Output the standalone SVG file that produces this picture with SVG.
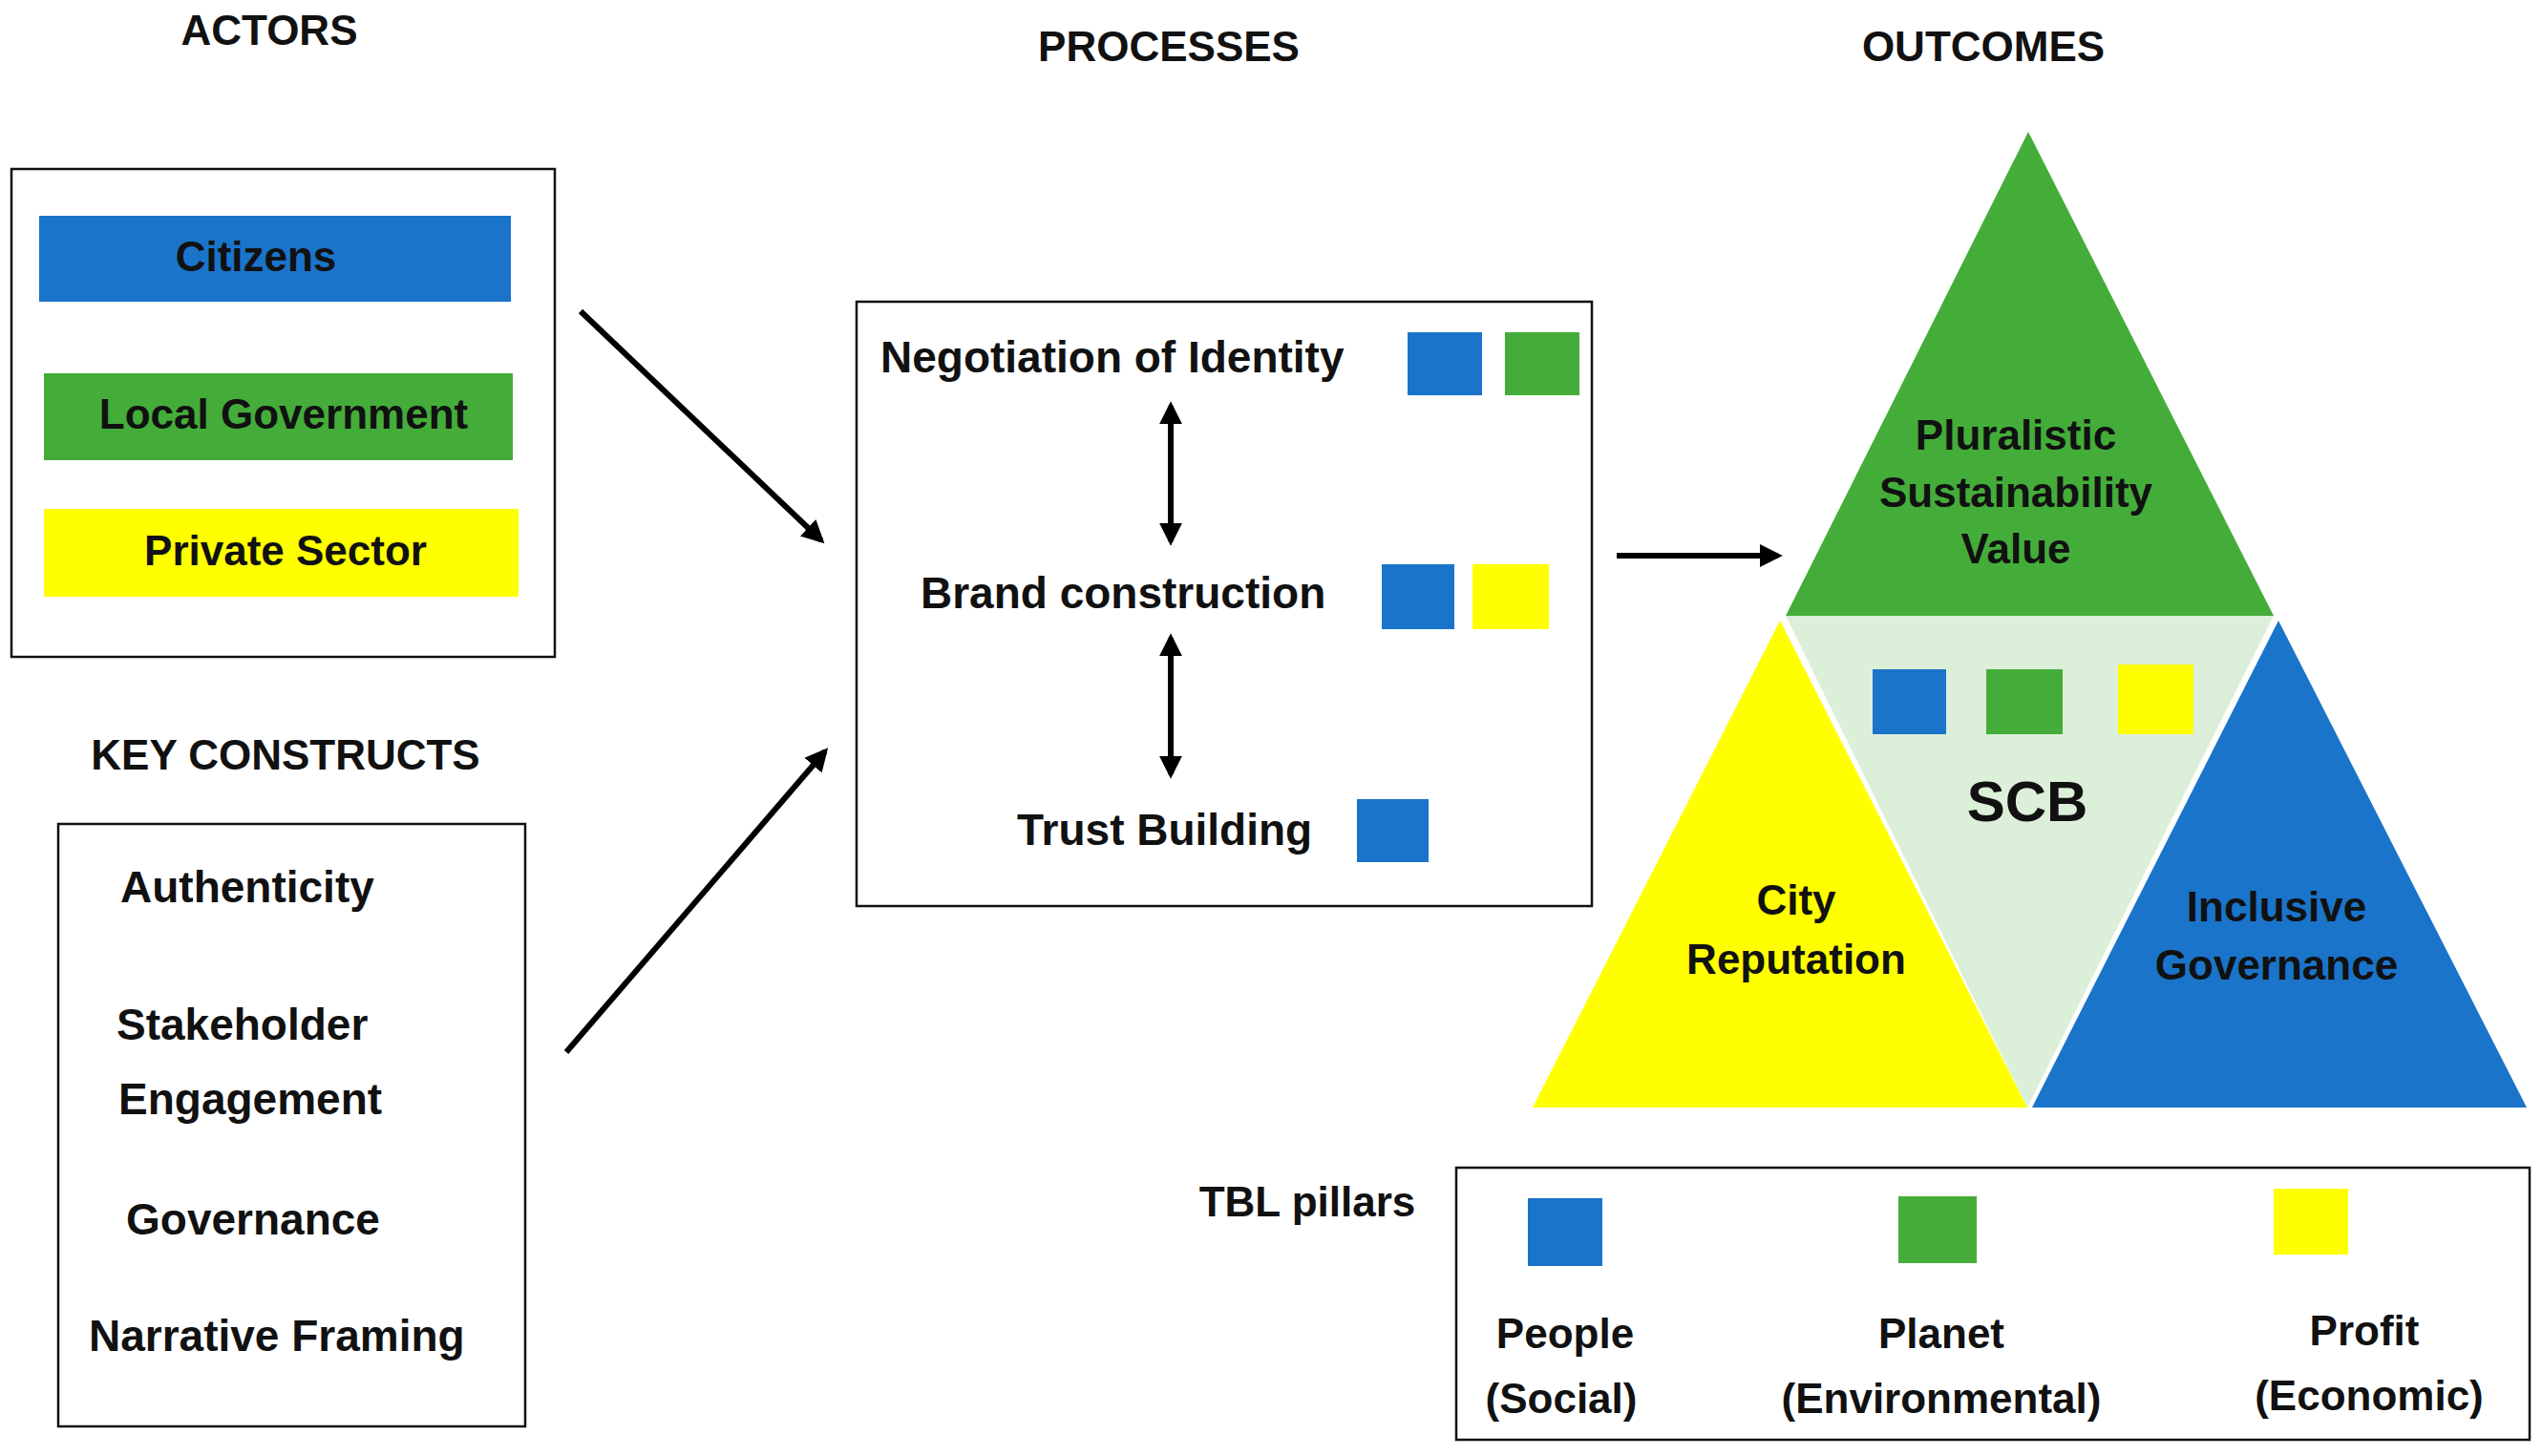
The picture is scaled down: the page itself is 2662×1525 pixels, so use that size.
<svg xmlns="http://www.w3.org/2000/svg" width="2662" height="1525" viewBox="0 0 2662 1525">
<style>
text{font-family:"Liberation Sans",Arial,sans-serif;font-weight:bold;font-size:44px;fill:#111;text-anchor:middle;dominant-baseline:central}
.l{text-anchor:start;font-size:46px}
.big{font-size:60px}
.box{fill:#fff;stroke:#111;stroke-width:2.5}
.b{fill:#1a74c9}.g{fill:#44ad3a}.y{fill:#ffff00}
.c{stroke:#000;stroke-width:6;fill:none}
</style>
<defs>
<marker id="ah" viewBox="0 0 10 10" refX="8" refY="5" markerWidth="4" markerHeight="4" orient="auto-start-reverse"><path d="M0,0L10,5L0,10z" fill="#000"/></marker>
</defs>
<rect width="2662" height="1525" fill="#fff"/>
<text x="282" y="31">ACTORS</text>
<text x="1224" y="48">PROCESSES</text>
<text x="2077" y="48">OUTCOMES</text>
<text x="299" y="790">KEY CONSTRUCTS</text>
<g id="actors">
<rect class="box" x="12" y="177" width="569" height="511"/>
<rect class="b" x="41" y="226" width="494" height="90"/><text x="268" y="268">Citizens</text>
<rect class="g" x="46" y="391" width="491" height="91"/><text x="297" y="433">Local Government</text>
<rect class="y" x="46" y="533" width="497" height="92"/><text x="299" y="576">Private Sector</text>
</g>
<g id="constructs">
<rect class="box" x="61" y="863" width="489" height="631"/>
<text class="l" x="126" y="929">Authenticity</text>
<text class="l" x="122" y="1073">Stakeholder</text>
<text class="l" x="124" y="1151">Engagement</text>
<text class="l" x="132" y="1277">Governance</text>
<text class="l" x="93" y="1399">Narrative Framing</text>
</g>
<g id="processes">
<rect class="box" x="897" y="316" width="770" height="633"/>
<text class="l" x="922" y="374">Negotiation of Identity</text>
<rect class="b" x="1474" y="348" width="78" height="66"/><rect class="g" x="1576" y="348" width="78" height="66"/>
<text class="l" x="964" y="621">Brand construction</text>
<rect class="b" x="1447" y="591" width="76" height="68"/><rect class="y" x="1542" y="591" width="80" height="68"/>
<text class="l" x="1065" y="869">Trust Building</text>
<rect class="b" x="1421" y="837" width="75" height="66"/>
</g>
<g id="connectors">
<line class="c" x1="608" y1="326" x2="860" y2="566" marker-end="url(#ah)"/>
<line class="c" x1="593" y1="1102" x2="864" y2="787" marker-end="url(#ah)"/>
<line class="c" x1="1226" y1="425" x2="1226" y2="567" stroke-width="4" marker-start="url(#ah)" marker-end="url(#ah)"/>
<line class="c" x1="1226" y1="668" x2="1226" y2="811" stroke-width="4" marker-start="url(#ah)" marker-end="url(#ah)"/>
<line class="c" x1="1693" y1="582" x2="1862" y2="582" marker-end="url(#ah)"/>
</g>
<g id="outcomes">
<polygon points="1870,645 2381,645 2123,1160" fill="#dcefd8"/>
<polygon class="g" points="2124,138 1870,645 2381,645"/>
<polygon class="y" points="1864,650 1605,1160 2123,1160"/>
<polygon class="b" points="2386,650 2128,1160 2646,1160"/>
<text x="2111" y="455">Pluralistic</text>
<text x="2111" y="515">Sustainability</text>
<text x="2111" y="574">Value</text>
<rect class="b" x="1961" y="701" width="77" height="68"/><rect class="g" x="2080" y="701" width="80" height="68"/><rect class="y" x="2218" y="696" width="79" height="73"/>
<text class="big" x="2123" y="839">SCB</text>
<text x="1881" y="942">City</text><text x="1881" y="1004">Reputation</text>
<text x="2384" y="949">Inclusive</text><text x="2384" y="1010">Governance</text>
</g>
<g id="legend">
<text x="1369" y="1258">TBL pillars</text>
<rect class="box" x="1525" y="1223" width="1124" height="285"/>
<rect class="b" x="1600" y="1255" width="78" height="71"/>
<rect class="g" x="1988" y="1253" width="82" height="70"/>
<rect class="y" x="2381" y="1245" width="78" height="69"/>
<text x="1639" y="1396">People</text><text x="1635" y="1464">(Social)</text>
<text x="2033" y="1396">Planet</text><text x="2033" y="1464">(Environmental)</text>
<text x="2476" y="1393">Profit</text><text x="2481" y="1461">(Economic)</text>
</g>
</svg>
